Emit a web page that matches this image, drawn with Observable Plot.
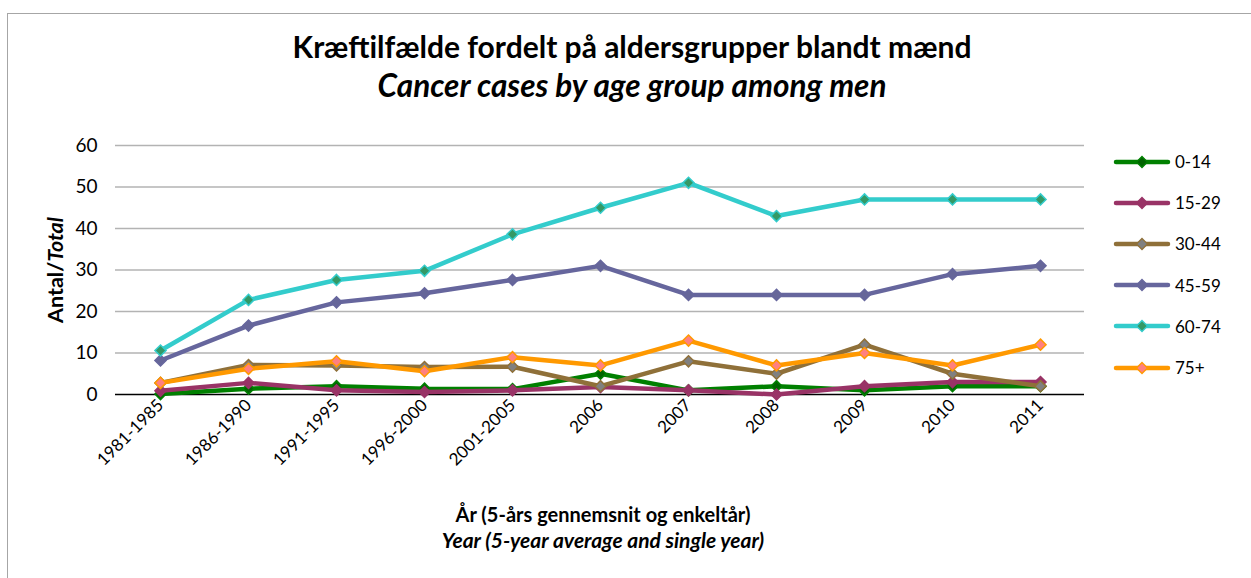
<!DOCTYPE html>
<html>
<head>
<meta charset="utf-8">
<script src="https://cdn.jsdelivr.net/npm/d3@7"></script>
<script src="https://cdn.jsdelivr.net/npm/@observablehq/plot@0.6"></script>
<style>
  html, body { margin: 0; padding: 0; background: #fff; overflow: hidden; }
  #wrap { position: relative; width: 1251px; height: 578px; overflow: hidden; font-family: Lato, "Open Sans", sans-serif; color: #000; }
  #frame { position: absolute; left: 7px; top: 13px; width: 1400px; height: 800px; border: 1.3px solid #a6a6a6; box-sizing: border-box; }
  #chart { position: absolute; left: 0; top: 0; }
  .title { position: absolute; left: 0; width: 1264px; text-align: center; font-weight: 700; white-space: nowrap; line-height: 1.2; }
  .xlab { position: absolute; left: 0; width: 1206px; text-align: center; font-weight: 700; white-space: nowrap; line-height: 1.2; }
  #ylab { position: absolute; left: 55px; top: 270px; transform: translate(-50%, -50%) rotate(-90deg); font-weight: 700; font-size: 21.5px; white-space: nowrap; }
  #legend { position: absolute; left: 1113px; top: 141px; }
  .item { display: flex; align-items: center; height: 41.2px; font-size: 17px; }
  .item svg { margin-right: 4px; }
</style>
</head>
<body>
<div id="wrap">
  <div id="frame"></div>
  <div id="chart"></div>
  <div class="title" style="top:28px; font-size:30px;">Kræftilfælde fordelt på aldersgrupper blandt mænd</div>
  <div class="title" style="top:67px; font-size:31.5px; font-style: italic;">Cancer cases by age group among men</div>
  <div id="ylab">Antal/<i>Total</i></div>
  <div class="xlab" style="top:502px; font-size:20px;">År (5-års gennemsnit og enkeltår)</div>
  <div class="xlab" style="top:527px; font-size:21px; font-style: italic;">Year (5-year average and single year)</div>
  <div id="legend"></div>
</div>
<script>
const categories = ["1981-1985","1986-1990","1991-1995","1996-2000","2001-2005","2006","2007","2008","2009","2010","2011"];
const yTicks = [0, 10, 20, 30, 40, 50, 60];
const seriesNames = ["0-14", "15-29", "30-44", "45-59", "60-74", "75+"];
const age0_14  = [0.1, 1.4, 2.0, 1.4, 1.3, 5, 1, 2, 1, 2, 2];
const age15_29 = [0.9, 2.8, 1.0, 0.6, 1.0, 1.8, 1, 0, 2, 3, 3];
const age30_44 = [2.8, 7.1, 7.0, 6.6, 6.7, 2, 8, 5, 12, 5, 2];
const age45_59 = [8.2, 16.6, 22.2, 24.4, 27.6, 31, 24, 24, 24, 29, 31];
const age60_74 = [10.6, 22.8, 27.6, 29.8, 38.6, 45, 51, 43, 47, 47, 47];
const age75    = [2.8, 6.2, 8.0, 5.6, 9.0, 7, 13, 7, 10, 7, 12];
const lineColors   = ["#008000", "#993366", "#8f7039", "#66669d", "#33cccc", "#ff9900"];
const markerColors = ["#006400", "#993366", "#808080", "#666699", "#339966", "#ff8080"];

const values = [age0_14, age15_29, age30_44, age45_59, age60_74, age75];
const series = seriesNames.map((name, i) => ({
  name, line: lineColors[i], marker: markerColors[i],
  rows: categories.map((c, j) => ({cat: c, value: values[i][j], series: name}))
}));

const chart = Plot.plot({
  width: 1251, height: 578,
  marginLeft: 115, marginRight: 167, marginTop: 145, marginBottom: 184,
  style: { fontFamily: "Lato, 'Open Sans', sans-serif", fontSize: "17px", color: "#000", background: "transparent" },
  x: { type: "point", domain: categories, padding: 0.5, label: null },
  y: { domain: [0, 60], ticks: yTicks, label: null },
  marks: [
    Plot.gridY(yTicks.filter(d => d > 0), { stroke: "#b3b3b3", strokeOpacity: 1, strokeWidth: 1.3 }),
    Plot.ruleY([0], { stroke: "#000", strokeWidth: 1.3 }),
    Plot.axisY({ ticks: yTicks, tickSize: 0, tickPadding: 18, fontSize: 19, label: null }),
    Plot.axisX({ tickSize: 0, tickRotate: -45, tickPadding: 8, fontSize: 17, label: null }),
    ...series.flatMap(s => [
      Plot.line(s.rows, { x: "cat", y: "value", stroke: s.line, strokeWidth: 4.5, strokeLinejoin: "round", strokeLinecap: "round" }),
      Plot.dot(s.rows, { x: "cat", y: "value", symbol: "diamond2", r: 5, fill: s.marker, stroke: s.line, strokeWidth: 1.5 })
    ])
  ]
});
document.getElementById("chart").appendChild(chart);

const legend = document.getElementById("legend");
series.forEach(s => {
  const item = document.createElement("div");
  item.className = "item";
  item.innerHTML = `<svg width="58" height="14"><line x1="3" y1="7" x2="55" y2="7" stroke="${s.line}" stroke-width="4.5" stroke-linecap="round"/><path d="M29,1.5 L34.5,7 L29,12.5 L23.5,7 Z" fill="${s.marker}" stroke="${s.line}" stroke-width="1.3"/></svg><span>${s.name}</span>`;
  legend.appendChild(item);
});
</script>
</body>
</html>
